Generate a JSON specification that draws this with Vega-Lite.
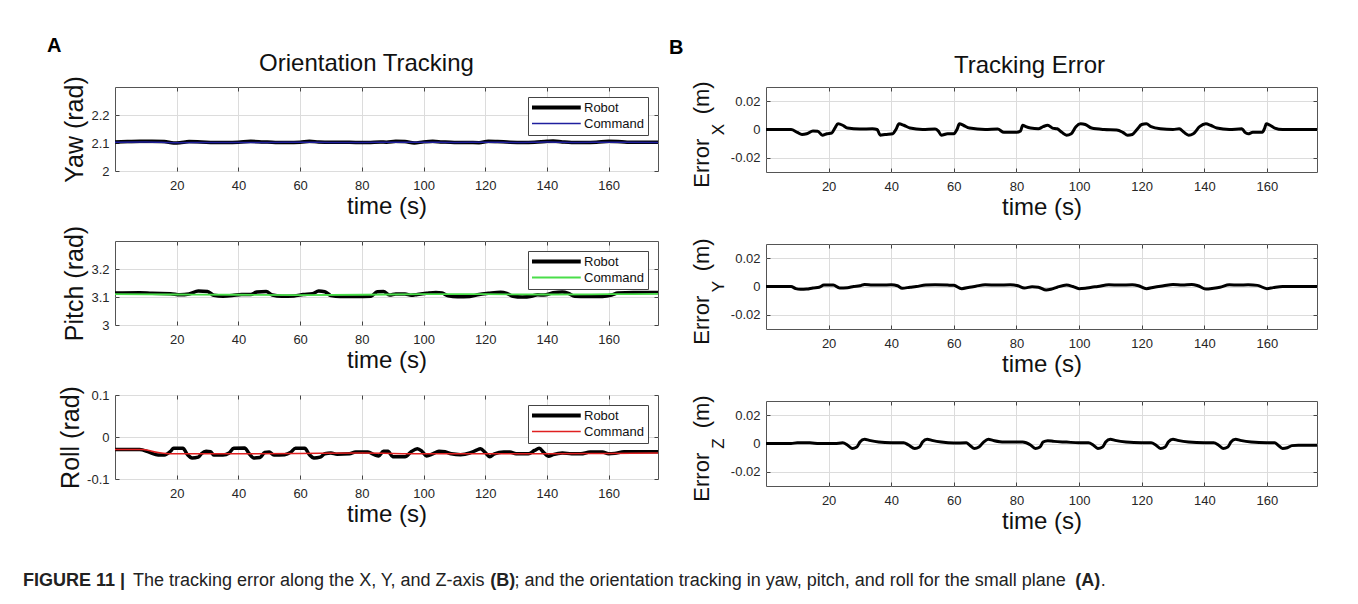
{
  "$schema": "https://vega.github.io/schema/vega-lite/v6.json",
  "background": "white",
  "padding": {"left": 23, "top": 36, "right": 0, "bottom": 0},
  "spacing": 3,
  "title": {
    "text": "FIGURE 11 |\u00a0\u00a0\u00a0\u00a0\u00a0\u00a0\u00a0\u00a0\u00a0\u00a0\u00a0\u00a0\u00a0\u00a0\u00a0\u00a0\u00a0\u00a0\u00a0\u00a0\u00a0\u00a0\u00a0\u00a0\u00a0\u00a0\u00a0\u00a0\u00a0\u00a0\u00a0\u00a0\u00a0\u00a0\u00a0\u00a0\u00a0\u00a0\u00a0\u00a0\u00a0\u00a0\u00a0\u00a0\u00a0\u00a0\u00a0\u00a0\u00a0\u00a0\u00a0\u00a0\u00a0\u00a0\u00a0\u00a0\u00a0\u00a0\u00a0\u00a0\u00a0\u00a0\u00a0\u00a0\u00a0\u00a0\u00a0\u00a0\u00a0\u00a0\u00a0\u00a0\u00a0(B)\u00a0\u00a0\u00a0\u00a0\u00a0\u00a0\u00a0\u00a0\u00a0\u00a0\u00a0\u00a0\u00a0\u00a0\u00a0\u00a0\u00a0\u00a0\u00a0\u00a0\u00a0\u00a0\u00a0\u00a0\u00a0\u00a0\u00a0\u00a0\u00a0\u00a0\u00a0\u00a0\u00a0\u00a0\u00a0\u00a0\u00a0\u00a0\u00a0\u00a0\u00a0\u00a0\u00a0\u00a0\u00a0\u00a0\u00a0\u00a0\u00a0\u00a0\u00a0\u00a0\u00a0\u00a0\u00a0\u00a0\u00a0\u00a0\u00a0\u00a0\u00a0\u00a0\u00a0\u00a0\u00a0\u00a0\u00a0\u00a0\u00a0\u00a0\u00a0\u00a0\u00a0\u00a0\u00a0\u00a0\u00a0\u00a0\u00a0\u00a0\u00a0\u00a0\u00a0\u00a0\u00a0\u00a0\u00a0\u00a0\u00a0\u00a0\u00a0\u00a0\u00a0\u00a0\u00a0\u00a0\u00a0\u00a0\u00a0\u00a0\u00a0\u00a0\u00a0\u00a0\u00a0\u00a0\u00a0\u00a0\u00a0\u00a0\u00a0\u00a0(A)",
    "subtitle": "\u200b\u00a0\u00a0\u00a0\u00a0\u00a0\u00a0\u00a0\u00a0\u00a0\u00a0\u00a0\u00a0\u00a0\u00a0\u00a0\u00a0\u00a0\u00a0\u00a0\u00a0\u00a0\u00a0The tracking error along the X, Y, and Z-axis\u00a0\u00a0\u00a0\u00a0\u00a0\u00a0; and the orientation tracking in yaw, pitch, and roll for the small plane\u00a0\u00a0\u00a0\u00a0\u00a0\u00a0\u00a0.",
    "orient": "bottom",
    "anchor": "start",
    "frame": "group",
    "dx": -92,
    "offset": 38,
    "font": "Liberation Sans",
    "fontSize": 18,
    "fontWeight": "bold",
    "color": "#222222",
    "subtitleFont": "Liberation Sans",
    "subtitleFontSize": 18,
    "subtitleFontWeight": "normal",
    "subtitleColor": "#222222",
    "subtitlePadding": -18
  },
  "datasets": {
    "yaw_r": [
      {"t":0,"v":2.104,"s":"Robot"},{"t":4,"v":2.105,"s":"Robot"},{"t":8,"v":2.106,"s":"Robot"},{"t":12,"v":2.106,"s":"Robot"},{"t":16,"v":2.105,"s":"Robot"},{"t":19,"v":2.1,"s":"Robot"},{"t":21,"v":2.101,"s":"Robot"},{"t":24,"v":2.105,"s":"Robot"},{"t":28,"v":2.104,"s":"Robot"},{"t":32,"v":2.102,"s":"Robot"},{"t":36,"v":2.102,"s":"Robot"},{"t":40,"v":2.103,"s":"Robot"},{"t":44,"v":2.106,"s":"Robot"},{"t":48,"v":2.104,"s":"Robot"},{"t":52,"v":2.102,"s":"Robot"},{"t":56,"v":2.102,"s":"Robot"},{"t":60,"v":2.103,"s":"Robot"},{"t":63,"v":2.106,"s":"Robot"},{"t":66,"v":2.104,"s":"Robot"},{"t":70,"v":2.103,"s":"Robot"},{"t":74,"v":2.103,"s":"Robot"},{"t":78,"v":2.102,"s":"Robot"},{"t":82,"v":2.102,"s":"Robot"},{"t":86,"v":2.104,"s":"Robot"},{"t":88,"v":2.103,"s":"Robot"},{"t":91,"v":2.106,"s":"Robot"},{"t":94,"v":2.105,"s":"Robot"},{"t":97,"v":2.1,"s":"Robot"},{"t":100,"v":2.104,"s":"Robot"},{"t":103,"v":2.106,"s":"Robot"},{"t":106,"v":2.104,"s":"Robot"},{"t":110,"v":2.102,"s":"Robot"},{"t":114,"v":2.102,"s":"Robot"},{"t":118,"v":2.101,"s":"Robot"},{"t":121,"v":2.106,"s":"Robot"},{"t":124,"v":2.105,"s":"Robot"},{"t":128,"v":2.103,"s":"Robot"},{"t":132,"v":2.102,"s":"Robot"},{"t":136,"v":2.103,"s":"Robot"},{"t":140,"v":2.106,"s":"Robot"},{"t":142,"v":2.107,"s":"Robot"},{"t":145,"v":2.104,"s":"Robot"},{"t":148,"v":2.102,"s":"Robot"},{"t":152,"v":2.102,"s":"Robot"},{"t":156,"v":2.103,"s":"Robot"},{"t":160,"v":2.106,"s":"Robot"},{"t":163,"v":2.105,"s":"Robot"},{"t":166,"v":2.103,"s":"Robot"},{"t":170,"v":2.103,"s":"Robot"},{"t":176,"v":2.103,"s":"Robot"}
    ],
    "yaw_c": [
      {"t":0,"v":2.103,"s":"Command"},{"t":10,"v":2.104,"s":"Command"},{"t":20,"v":2.101,"s":"Command"},{"t":30,"v":2.102,"s":"Command"},{"t":40,"v":2.102,"s":"Command"},{"t":50,"v":2.102,"s":"Command"},{"t":60,"v":2.103,"s":"Command"},{"t":70,"v":2.102,"s":"Command"},{"t":80,"v":2.102,"s":"Command"},{"t":90,"v":2.103,"s":"Command"},{"t":100,"v":2.103,"s":"Command"},{"t":110,"v":2.102,"s":"Command"},{"t":120,"v":2.103,"s":"Command"},{"t":130,"v":2.102,"s":"Command"},{"t":140,"v":2.104,"s":"Command"},{"t":150,"v":2.102,"s":"Command"},{"t":160,"v":2.103,"s":"Command"},{"t":176,"v":2.102,"s":"Command"}
    ],
    "pitch_r": [
      {"t":0,"v":3.114,"s":"Robot"},{"t":8,"v":3.115,"s":"Robot"},{"t":12,"v":3.113,"s":"Robot"},{"t":18,"v":3.112,"s":"Robot"},{"t":21,"v":3.108,"s":"Robot"},{"t":24,"v":3.111,"s":"Robot"},{"t":27,"v":3.121,"s":"Robot"},{"t":30,"v":3.12,"s":"Robot"},{"t":32,"v":3.106,"s":"Robot"},{"t":35,"v":3.103,"s":"Robot"},{"t":38,"v":3.105,"s":"Robot"},{"t":41,"v":3.109,"s":"Robot"},{"t":44,"v":3.109,"s":"Robot"},{"t":46,"v":3.118,"s":"Robot"},{"t":49,"v":3.12,"s":"Robot"},{"t":51,"v":3.107,"s":"Robot"},{"t":54,"v":3.103,"s":"Robot"},{"t":58,"v":3.104,"s":"Robot"},{"t":61,"v":3.109,"s":"Robot"},{"t":64,"v":3.112,"s":"Robot"},{"t":66,"v":3.121,"s":"Robot"},{"t":68,"v":3.119,"s":"Robot"},{"t":70,"v":3.105,"s":"Robot"},{"t":73,"v":3.102,"s":"Robot"},{"t":78,"v":3.102,"s":"Robot"},{"t":83,"v":3.103,"s":"Robot"},{"t":85,"v":3.119,"s":"Robot"},{"t":87,"v":3.12,"s":"Robot"},{"t":89,"v":3.107,"s":"Robot"},{"t":91,"v":3.111,"s":"Robot"},{"t":94,"v":3.111,"s":"Robot"},{"t":96,"v":3.106,"s":"Robot"},{"t":98,"v":3.109,"s":"Robot"},{"t":101,"v":3.113,"s":"Robot"},{"t":104,"v":3.116,"s":"Robot"},{"t":106,"v":3.114,"s":"Robot"},{"t":108,"v":3.104,"s":"Robot"},{"t":111,"v":3.101,"s":"Robot"},{"t":115,"v":3.102,"s":"Robot"},{"t":118,"v":3.109,"s":"Robot"},{"t":121,"v":3.113,"s":"Robot"},{"t":125,"v":3.117,"s":"Robot"},{"t":127,"v":3.113,"s":"Robot"},{"t":129,"v":3.103,"s":"Robot"},{"t":132,"v":3.1,"s":"Robot"},{"t":135,"v":3.103,"s":"Robot"},{"t":137,"v":3.108,"s":"Robot"},{"t":139,"v":3.107,"s":"Robot"},{"t":142,"v":3.115,"s":"Robot"},{"t":145,"v":3.118,"s":"Robot"},{"t":147,"v":3.113,"s":"Robot"},{"t":149,"v":3.103,"s":"Robot"},{"t":153,"v":3.102,"s":"Robot"},{"t":158,"v":3.102,"s":"Robot"},{"t":161,"v":3.107,"s":"Robot"},{"t":163,"v":3.114,"s":"Robot"},{"t":168,"v":3.116,"s":"Robot"},{"t":176,"v":3.116,"s":"Robot"}
    ],
    "pitch_c": [
      {"t":0,"v":3.11,"s":"Command"},{"t":20,"v":3.109,"s":"Command"},{"t":40,"v":3.108,"s":"Command"},{"t":60,"v":3.107,"s":"Command"},{"t":80,"v":3.108,"s":"Command"},{"t":100,"v":3.11,"s":"Command"},{"t":120,"v":3.11,"s":"Command"},{"t":140,"v":3.109,"s":"Command"},{"t":160,"v":3.11,"s":"Command"},{"t":176,"v":3.111,"s":"Command"}
    ],
    "roll_r": [
      {"t":0,"v":-0.03,"s":"Robot"},{"t":8,"v":-0.03,"s":"Robot"},{"t":11,"v":-0.036,"s":"Robot"},{"t":14,"v":-0.043,"s":"Robot"},{"t":16,"v":-0.043,"s":"Robot"},{"t":18,"v":-0.034,"s":"Robot"},{"t":19,"v":-0.027,"s":"Robot"},{"t":22,"v":-0.027,"s":"Robot"},{"t":23.5,"v":-0.042,"s":"Robot"},{"t":25,"v":-0.05,"s":"Robot"},{"t":27,"v":-0.048,"s":"Robot"},{"t":28,"v":-0.04,"s":"Robot"},{"t":29.5,"v":-0.034,"s":"Robot"},{"t":31,"v":-0.035,"s":"Robot"},{"t":32,"v":-0.043,"s":"Robot"},{"t":35,"v":-0.043,"s":"Robot"},{"t":37,"v":-0.038,"s":"Robot"},{"t":38.5,"v":-0.027,"s":"Robot"},{"t":42,"v":-0.026,"s":"Robot"},{"t":43.5,"v":-0.04,"s":"Robot"},{"t":45,"v":-0.05,"s":"Robot"},{"t":47,"v":-0.049,"s":"Robot"},{"t":48.5,"v":-0.037,"s":"Robot"},{"t":50,"v":-0.036,"s":"Robot"},{"t":51.5,"v":-0.043,"s":"Robot"},{"t":55,"v":-0.042,"s":"Robot"},{"t":57,"v":-0.036,"s":"Robot"},{"t":58.5,"v":-0.027,"s":"Robot"},{"t":61.5,"v":-0.027,"s":"Robot"},{"t":63,"v":-0.042,"s":"Robot"},{"t":64.5,"v":-0.05,"s":"Robot"},{"t":66.5,"v":-0.048,"s":"Robot"},{"t":68,"v":-0.04,"s":"Robot"},{"t":70,"v":-0.038,"s":"Robot"},{"t":72,"v":-0.041,"s":"Robot"},{"t":76,"v":-0.04,"s":"Robot"},{"t":78,"v":-0.036,"s":"Robot"},{"t":82,"v":-0.036,"s":"Robot"},{"t":84,"v":-0.042,"s":"Robot"},{"t":85.5,"v":-0.045,"s":"Robot"},{"t":87,"v":-0.034,"s":"Robot"},{"t":88.5,"v":-0.034,"s":"Robot"},{"t":90,"v":-0.047,"s":"Robot"},{"t":94,"v":-0.047,"s":"Robot"},{"t":96,"v":-0.035,"s":"Robot"},{"t":98,"v":-0.028,"s":"Robot"},{"t":99.5,"v":-0.034,"s":"Robot"},{"t":101,"v":-0.045,"s":"Robot"},{"t":103,"v":-0.04,"s":"Robot"},{"t":105,"v":-0.034,"s":"Robot"},{"t":107,"v":-0.035,"s":"Robot"},{"t":109,"v":-0.04,"s":"Robot"},{"t":112,"v":-0.042,"s":"Robot"},{"t":115,"v":-0.038,"s":"Robot"},{"t":117,"v":-0.032,"s":"Robot"},{"t":118.5,"v":-0.028,"s":"Robot"},{"t":120,"v":-0.037,"s":"Robot"},{"t":121.5,"v":-0.047,"s":"Robot"},{"t":123,"v":-0.04,"s":"Robot"},{"t":126,"v":-0.036,"s":"Robot"},{"t":128,"v":-0.036,"s":"Robot"},{"t":130,"v":-0.04,"s":"Robot"},{"t":134,"v":-0.04,"s":"Robot"},{"t":136,"v":-0.032,"s":"Robot"},{"t":137.5,"v":-0.027,"s":"Robot"},{"t":139,"v":-0.037,"s":"Robot"},{"t":140.5,"v":-0.046,"s":"Robot"},{"t":142,"v":-0.042,"s":"Robot"},{"t":145,"v":-0.038,"s":"Robot"},{"t":148,"v":-0.04,"s":"Robot"},{"t":151,"v":-0.04,"s":"Robot"},{"t":154,"v":-0.036,"s":"Robot"},{"t":158,"v":-0.036,"s":"Robot"},{"t":160,"v":-0.04,"s":"Robot"},{"t":162,"v":-0.039,"s":"Robot"},{"t":165,"v":-0.035,"s":"Robot"},{"t":170,"v":-0.035,"s":"Robot"},{"t":176,"v":-0.035,"s":"Robot"}
    ],
    "roll_c": [
      {"t":0,"v":-0.03,"s":"Command"},{"t":9,"v":-0.03,"s":"Command"},{"t":14,"v":-0.037,"s":"Command"},{"t":18,"v":-0.04,"s":"Command"},{"t":40,"v":-0.04,"s":"Command"},{"t":60,"v":-0.039,"s":"Command"},{"t":80,"v":-0.038,"s":"Command"},{"t":100,"v":-0.04,"s":"Command"},{"t":120,"v":-0.04,"s":"Command"},{"t":140,"v":-0.04,"s":"Command"},{"t":160,"v":-0.039,"s":"Command"},{"t":176,"v":-0.038,"s":"Command"}
    ],
    "ex": [
      {"t":0,"v":0},{"t":8,"v":0},{"t":10,"v":-0.002},{"t":11.5,"v":-0.0035},{"t":13,"v":-0.003},{"t":15,"v":-0.001},{"t":16.5,"v":-0.0012},{"t":18,"v":-0.004},{"t":19.5,"v":-0.003},{"t":21,"v":-0.0025},{"t":22,"v":0.001},{"t":23,"v":0.004},{"t":24.5,"v":0.003},{"t":26,"v":0.001},{"t":30,"v":0.0003},{"t":34,"v":0.0005},{"t":35.5,"v":0},{"t":36.5,"v":-0.004},{"t":38,"v":-0.0035},{"t":40.5,"v":-0.003},{"t":41.5,"v":0},{"t":42.5,"v":0.004},{"t":44,"v":0.003},{"t":46,"v":0.001},{"t":50,"v":0},{"t":54,"v":0.0003},{"t":55,"v":-0.001},{"t":56,"v":-0.004},{"t":58,"v":-0.003},{"t":60,"v":-0.003},{"t":61,"v":0},{"t":61.8,"v":0.004},{"t":63,"v":0.003},{"t":65,"v":0.001},{"t":70,"v":0},{"t":74,"v":0.0003},{"t":76,"v":-0.002},{"t":80,"v":-0.002},{"t":81.3,"v":-0.001},{"t":82,"v":0.003},{"t":83,"v":0.002},{"t":84.5,"v":0.001},{"t":87,"v":0.0005},{"t":88.5,"v":0.002},{"t":90,"v":0.003},{"t":91.5,"v":0.001},{"t":93,"v":0.0005},{"t":94.5,"v":-0.002},{"t":96,"v":-0.004},{"t":97.5,"v":-0.003},{"t":99,"v":0.002},{"t":100.5,"v":0.004},{"t":102,"v":0.0035},{"t":104,"v":0.001},{"t":108,"v":0},{"t":112,"v":-0.0003},{"t":114,"v":-0.002},{"t":115.5,"v":-0.004},{"t":117,"v":-0.0035},{"t":118.5,"v":0},{"t":120,"v":0.0035},{"t":121.5,"v":0.004},{"t":123,"v":0.002},{"t":126,"v":0.0005},{"t":130,"v":0},{"t":132,"v":0.0005},{"t":133.5,"v":-0.002},{"t":135,"v":-0.004},{"t":136.5,"v":-0.003},{"t":138.5,"v":0.002},{"t":140.5,"v":0.004},{"t":142,"v":0.003},{"t":144,"v":0.001},{"t":148,"v":0},{"t":152,"v":0.0005},{"t":153,"v":-0.002},{"t":154,"v":-0.003},{"t":155.5,"v":-0.002},{"t":158.5,"v":-0.002},{"t":159.3,"v":0.001},{"t":159.8,"v":0.004},{"t":161,"v":0.003},{"t":162.5,"v":0.001},{"t":165,"v":0},{"t":176,"v":0}
    ],
    "ey": [
      {"t":0,"v":0},{"t":8,"v":0},{"t":9.5,"v":-0.0015},{"t":11,"v":-0.002},{"t":13,"v":-0.0018},{"t":15,"v":-0.001},{"t":17,"v":-0.0005},{"t":18.5,"v":0.001},{"t":21.5,"v":0.001},{"t":23.5,"v":-0.001},{"t":26,"v":-0.0008},{"t":28,"v":0},{"t":30,"v":0.0005},{"t":31.5,"v":0.0015},{"t":34,"v":0.001},{"t":37,"v":0.001},{"t":40,"v":0.0012},{"t":42,"v":0.0005},{"t":43.5,"v":-0.0012},{"t":46,"v":-0.0005},{"t":48,"v":0},{"t":51,"v":0.001},{"t":54,"v":0.0012},{"t":58,"v":0.001},{"t":60,"v":0.0008},{"t":62.5,"v":-0.0015},{"t":65,"v":-0.0005},{"t":67,"v":0.0002},{"t":70,"v":0.0012},{"t":74,"v":0.001},{"t":78,"v":0.0012},{"t":80.5,"v":0.0005},{"t":82.5,"v":-0.001},{"t":85,"v":-0.0002},{"t":87,"v":-0.0005},{"t":89.5,"v":-0.0025},{"t":91,"v":-0.002},{"t":93,"v":-0.0005},{"t":96,"v":0.001},{"t":98,"v":0},{"t":100,"v":-0.0015},{"t":102,"v":-0.0012},{"t":104,"v":-0.0005},{"t":106,"v":0},{"t":109.5,"v":0.0012},{"t":113,"v":0.001},{"t":117,"v":0.0012},{"t":119,"v":0.0005},{"t":121.5,"v":-0.0015},{"t":124,"v":-0.0005},{"t":127,"v":0.0005},{"t":130,"v":0.0015},{"t":133,"v":0.001},{"t":136,"v":0.0015},{"t":138,"v":0.0005},{"t":140.5,"v":-0.0018},{"t":143,"v":-0.0012},{"t":145,"v":-0.0005},{"t":148,"v":0.0012},{"t":151,"v":0.001},{"t":154,"v":0.0012},{"t":157,"v":0.0008},{"t":160,"v":-0.0015},{"t":162,"v":-0.0008},{"t":165,"v":0},{"t":176,"v":0}
    ],
    "ez": [
      {"t":0,"v":0},{"t":8,"v":0},{"t":10,"v":0.0005},{"t":14,"v":0.0005},{"t":17,"v":0},{"t":22,"v":0},{"t":24.5,"v":0.0005},{"t":26,"v":-0.001},{"t":27.5,"v":-0.0035},{"t":29,"v":-0.0025},{"t":30,"v":0.001},{"t":31.5,"v":0.003},{"t":33,"v":0.0022},{"t":36,"v":0.001},{"t":40,"v":0.0005},{"t":44,"v":0.0005},{"t":45.5,"v":-0.001},{"t":47.5,"v":-0.0035},{"t":49,"v":-0.0025},{"t":50,"v":0.001},{"t":51.5,"v":0.003},{"t":53,"v":0.0022},{"t":56,"v":0.001},{"t":60,"v":0.0003},{"t":64,"v":0.0005},{"t":65,"v":-0.001},{"t":66.5,"v":-0.0035},{"t":68,"v":-0.0025},{"t":69.5,"v":0.001},{"t":71,"v":0.003},{"t":72.5,"v":0.0022},{"t":76,"v":0.001},{"t":82,"v":0.001},{"t":84.5,"v":-0.001},{"t":86,"v":-0.0035},{"t":87.5,"v":-0.0025},{"t":88.5,"v":0.001},{"t":90,"v":0.002},{"t":92,"v":0.0015},{"t":96,"v":0.001},{"t":100,"v":0.0005},{"t":103,"v":0.0005},{"t":104.5,"v":-0.001},{"t":106,"v":-0.0035},{"t":107.5,"v":-0.0025},{"t":108.5,"v":0.001},{"t":110,"v":0.003},{"t":111.5,"v":0.0022},{"t":115,"v":0.001},{"t":120,"v":0.0005},{"t":123,"v":0.0005},{"t":124.5,"v":-0.001},{"t":126,"v":-0.0035},{"t":127.5,"v":-0.0025},{"t":128.5,"v":0.001},{"t":130,"v":0.003},{"t":131.5,"v":0.0022},{"t":135,"v":0.001},{"t":140,"v":0.0005},{"t":143,"v":0.0005},{"t":144.5,"v":-0.001},{"t":146,"v":-0.0035},{"t":147.5,"v":-0.0025},{"t":148.5,"v":0.001},{"t":150,"v":0.003},{"t":151.5,"v":0.0022},{"t":155,"v":0.001},{"t":160,"v":0.0005},{"t":162.5,"v":0.0005},{"t":163.5,"v":-0.001},{"t":165,"v":-0.0035},{"t":166.5,"v":-0.003},{"t":168,"v":-0.0015},{"t":170,"v":-0.0012},{"t":176,"v":-0.0012}
    ]
  },
  "hconcat": [
    {
      "title": {"text": "A", "anchor": "start", "frame": "group", "dx": -68, "offset": -5, "fontSize": 20, "fontWeight": "bold", "color": "#000000"},
      "bounds": "flush",
      "spacing": 70,
      "resolve": {"scale": {"color": "independent"}, "legend": {"color": "independent"}},
      "vconcat": [
        {
          "width": 543, "height": 84,
          "title": {"text": "Orientation Tracking", "frame": "group", "dx": -20, "offset": 0},
          "layer": [
            {"data": {"name": "yaw_r"}, "mark": {"type": "line", "interpolate": "monotone", "strokeWidth": 3.5},
             "encoding": {
               "x": {"field": "t", "type": "quantitative", "scale": {"domain": [0, 176], "nice": false, "zero": false}, "axis": {"orient": "bottom", "values": [20,40,60,80,100,120,140,160], "title": "time (s)", "grid": true}},
               "y": {"field": "v", "type": "quantitative", "scale": {"domain": [2, 2.3], "nice": false, "zero": false}, "axis": {"orient": "left", "values": [2, 2.1, 2.2], "title": "Yaw (rad)", "grid": true, "labelExpr": "datum.value < 0 ? '-' + format(-datum.value, '~g') : format(datum.value, '~g')"}},
               "color": {"field": "s", "type": "nominal", "scale": {"domain": ["Robot", "Command"], "range": ["#000000", "#1f1f9e"]}, "legend": {"title": null, "orient": "top-right", "encode": {"symbols": {"update": {"strokeWidth": {"signal": "datum.value === 'Robot' ? 4 : 1.5"}}}}}}
             }},
            {"data": {"name": "yaw_c"}, "mark": {"type": "line", "interpolate": "monotone", "strokeWidth": 1.5},
             "encoding": {
               "x": {"field": "t", "type": "quantitative", "axis": {"orient": "top", "values": [20,40,60,80,100,120,140,160], "labels": false, "title": null, "grid": false}},
               "y": {"field": "v", "type": "quantitative", "axis": {"orient": "right", "values": [2, 2.1, 2.2], "labels": false, "title": null, "grid": false}},
               "color": {"field": "s", "type": "nominal", "legend": {"title": null, "orient": "top-right", "encode": {"symbols": {"update": {"strokeWidth": {"signal": "datum.value === 'Robot' ? 4 : 1.5"}}}}}}
             }}
          ],
          "resolve": {"axis": {"x": "independent", "y": "independent"}}
        },
        {
          "width": 543, "height": 84,
          "layer": [
            {"data": {"name": "pitch_r"}, "mark": {"type": "line", "interpolate": "monotone", "strokeWidth": 3.5},
             "encoding": {
               "x": {"field": "t", "type": "quantitative", "scale": {"domain": [0, 176], "nice": false, "zero": false}, "axis": {"orient": "bottom", "values": [20,40,60,80,100,120,140,160], "title": "time (s)", "grid": true}},
               "y": {"field": "v", "type": "quantitative", "scale": {"domain": [3, 3.3], "nice": false, "zero": false}, "axis": {"orient": "left", "values": [3, 3.1, 3.2], "title": "Pitch (rad)", "grid": true, "labelExpr": "datum.value < 0 ? '-' + format(-datum.value, '~g') : format(datum.value, '~g')"}},
               "color": {"field": "s", "type": "nominal", "scale": {"domain": ["Robot", "Command"], "range": ["#000000", "#4ade4a"]}, "legend": {"title": null, "orient": "top-right", "encode": {"symbols": {"update": {"strokeWidth": {"signal": "datum.value === 'Robot' ? 4 : 1.8"}}}}}}
             }},
            {"data": {"name": "pitch_c"}, "mark": {"type": "line", "interpolate": "monotone", "strokeWidth": 1.8},
             "encoding": {
               "x": {"field": "t", "type": "quantitative", "axis": {"orient": "top", "values": [20,40,60,80,100,120,140,160], "labels": false, "title": null, "grid": false}},
               "y": {"field": "v", "type": "quantitative", "axis": {"orient": "right", "values": [3, 3.1, 3.2], "labels": false, "title": null, "grid": false}},
               "color": {"field": "s", "type": "nominal", "legend": {"title": null, "orient": "top-right", "encode": {"symbols": {"update": {"strokeWidth": {"signal": "datum.value === 'Robot' ? 4 : 1.8"}}}}}}
             }}
          ],
          "resolve": {"axis": {"x": "independent", "y": "independent"}}
        },
        {
          "width": 543, "height": 84,
          "layer": [
            {"data": {"name": "roll_r"}, "mark": {"type": "line", "interpolate": "monotone", "strokeWidth": 3.5},
             "encoding": {
               "x": {"field": "t", "type": "quantitative", "scale": {"domain": [0, 176], "nice": false, "zero": false}, "axis": {"orient": "bottom", "values": [20,40,60,80,100,120,140,160], "title": "time (s)", "grid": true}},
               "y": {"field": "v", "type": "quantitative", "scale": {"domain": [-0.1, 0.1], "nice": false, "zero": false}, "axis": {"orient": "left", "values": [-0.1, 0, 0.1], "title": "Roll (rad)", "grid": true, "labelExpr": "datum.value < 0 ? '-' + format(-datum.value, '~g') : format(datum.value, '~g')"}},
               "color": {"field": "s", "type": "nominal", "scale": {"domain": ["Robot", "Command"], "range": ["#000000", "#e02020"]}, "legend": {"title": null, "orient": "top-right", "encode": {"symbols": {"update": {"strokeWidth": {"signal": "datum.value === 'Robot' ? 4 : 1.5"}}}}}}
             }},
            {"data": {"name": "roll_c"}, "mark": {"type": "line", "interpolate": "monotone", "strokeWidth": 1.5},
             "encoding": {
               "x": {"field": "t", "type": "quantitative", "axis": {"orient": "top", "values": [20,40,60,80,100,120,140,160], "labels": false, "title": null, "grid": false}},
               "y": {"field": "v", "type": "quantitative", "axis": {"orient": "right", "values": [-0.1, 0, 0.1], "labels": false, "title": null, "grid": false}},
               "color": {"field": "s", "type": "nominal", "legend": {"title": null, "orient": "top-right", "encode": {"symbols": {"update": {"strokeWidth": {"signal": "datum.value === 'Robot' ? 4 : 1.5"}}}}}}
             }}
          ],
          "resolve": {"axis": {"x": "independent", "y": "independent"}}
        }
      ]
    },
    {
      "title": {"text": "B", "anchor": "start", "frame": "group", "dx": -97, "offset": -5, "fontSize": 20, "fontWeight": "bold", "color": "#000000"},
      "bounds": "flush",
      "spacing": 72,
      "vconcat": [
        {
          "width": 551, "height": 85,
          "title": {"text": "Tracking Error", "frame": "group", "dx": -12, "offset": 3},
          "layer": [
            {"data": {"name": "ex"}, "mark": {"type": "line", "interpolate": "monotone", "color": "#000000", "strokeWidth": 3},
             "encoding": {
               "x": {"field": "t", "type": "quantitative", "scale": {"domain": [0, 176], "nice": false, "zero": false}, "axis": {"orient": "bottom", "values": [20,40,60,80,100,120,140,160], "title": "time (s)", "grid": true}},
               "y": {"field": "v", "type": "quantitative", "scale": {"domain": [-0.03, 0.03], "nice": false, "zero": false}, "axis": {"orient": "left", "values": [-0.02, 0, 0.02], "title": "Error\u00a0\u00a0\u00a0\u00a0(m)", "titleFontSize": 22, "titleX": -58, "titleY": 47, "titleBaseline": "alphabetic", "grid": true, "labelExpr": "datum.value < 0 ? '-' + format(-datum.value, '~g') : format(datum.value, '~g')"}}
             }},
            {"data": {"name": "ex"}, "mark": {"type": "line", "opacity": 0},
             "encoding": {
               "x": {"field": "t", "type": "quantitative", "axis": {"orient": "top", "values": [20,40,60,80,100,120,140,160], "labels": false, "title": null, "grid": false}},
               "y": {"field": "v", "type": "quantitative", "axis": {"orient": "right", "values": [-0.02, 0, 0.02], "labels": false, "title": null, "grid": false}}
             }},
            {"data": {"name": "ex"}, "mark": {"type": "line", "opacity": 0},
             "encoding": {
               "x": {"field": "t", "type": "quantitative", "axis": null},
               "y": {"field": "v", "type": "quantitative", "axis": {"orient": "left", "labels": false, "ticks": false, "grid": false, "domain": false, "title": "X", "titleFontSize": 17, "titleX": -43, "titleY": 42, "titleBaseline": "alphabetic"}}
             }}
          ],
          "resolve": {"axis": {"x": "independent", "y": "independent"}}
        },
        {
          "width": 551, "height": 85,
          "layer": [
            {"data": {"name": "ey"}, "mark": {"type": "line", "interpolate": "monotone", "color": "#000000", "strokeWidth": 3},
             "encoding": {
               "x": {"field": "t", "type": "quantitative", "scale": {"domain": [0, 176], "nice": false, "zero": false}, "axis": {"orient": "bottom", "values": [20,40,60,80,100,120,140,160], "title": "time (s)", "grid": true}},
               "y": {"field": "v", "type": "quantitative", "scale": {"domain": [-0.03, 0.03], "nice": false, "zero": false}, "axis": {"orient": "left", "values": [-0.02, 0, 0.02], "title": "Error\u00a0\u00a0\u00a0\u00a0(m)", "titleFontSize": 22, "titleX": -58, "titleY": 47, "titleBaseline": "alphabetic", "grid": true, "labelExpr": "datum.value < 0 ? '-' + format(-datum.value, '~g') : format(datum.value, '~g')"}}
             }},
            {"data": {"name": "ey"}, "mark": {"type": "line", "opacity": 0},
             "encoding": {
               "x": {"field": "t", "type": "quantitative", "axis": {"orient": "top", "values": [20,40,60,80,100,120,140,160], "labels": false, "title": null, "grid": false}},
               "y": {"field": "v", "type": "quantitative", "axis": {"orient": "right", "values": [-0.02, 0, 0.02], "labels": false, "title": null, "grid": false}}
             }},
            {"data": {"name": "ey"}, "mark": {"type": "line", "opacity": 0},
             "encoding": {
               "x": {"field": "t", "type": "quantitative", "axis": null},
               "y": {"field": "v", "type": "quantitative", "axis": {"orient": "left", "labels": false, "ticks": false, "grid": false, "domain": false, "title": "Y", "titleFontSize": 17, "titleX": -43, "titleY": 42, "titleBaseline": "alphabetic"}}
             }}
          ],
          "resolve": {"axis": {"x": "independent", "y": "independent"}}
        },
        {
          "width": 551, "height": 85,
          "layer": [
            {"data": {"name": "ez"}, "mark": {"type": "line", "interpolate": "monotone", "color": "#000000", "strokeWidth": 3},
             "encoding": {
               "x": {"field": "t", "type": "quantitative", "scale": {"domain": [0, 176], "nice": false, "zero": false}, "axis": {"orient": "bottom", "values": [20,40,60,80,100,120,140,160], "title": "time (s)", "grid": true}},
               "y": {"field": "v", "type": "quantitative", "scale": {"domain": [-0.03, 0.03], "nice": false, "zero": false}, "axis": {"orient": "left", "values": [-0.02, 0, 0.02], "title": "Error\u00a0\u00a0\u00a0\u00a0(m)", "titleFontSize": 22, "titleX": -58, "titleY": 47, "titleBaseline": "alphabetic", "grid": true, "labelExpr": "datum.value < 0 ? '-' + format(-datum.value, '~g') : format(datum.value, '~g')"}}
             }},
            {"data": {"name": "ez"}, "mark": {"type": "line", "opacity": 0},
             "encoding": {
               "x": {"field": "t", "type": "quantitative", "axis": {"orient": "top", "values": [20,40,60,80,100,120,140,160], "labels": false, "title": null, "grid": false}},
               "y": {"field": "v", "type": "quantitative", "axis": {"orient": "right", "values": [-0.02, 0, 0.02], "labels": false, "title": null, "grid": false}}
             }},
            {"data": {"name": "ez"}, "mark": {"type": "line", "opacity": 0},
             "encoding": {
               "x": {"field": "t", "type": "quantitative", "axis": null},
               "y": {"field": "v", "type": "quantitative", "axis": {"orient": "left", "labels": false, "ticks": false, "grid": false, "domain": false, "title": "Z", "titleFontSize": 17, "titleX": -43, "titleY": 42, "titleBaseline": "alphabetic"}}
             }}
          ],
          "resolve": {"axis": {"x": "independent", "y": "independent"}}
        }
      ]
    }
  ],
  "config": {
    "font": "Liberation Sans",
    "view": {"stroke": "#555555", "strokeWidth": 1},
    "axis": {
      "domain": false,
      "gridColor": "#dcdcdc",
      "gridWidth": 1,
      "tickColor": "#444444",
      "tickSize": -4,
      "tickWidth": 1,
      "labelFont": "Liberation Sans",
      "labelFontSize": 13,
      "labelColor": "#262626",
      "labelFlush": false,
      "titleFont": "Liberation Sans",
      "titleFontWeight": "normal",
      "titleColor": "#111111",
      "titleFontSize": 24
    },
    "axisX": {"labelPadding": 12, "titlePadding": 2},
    "axisY": {"labelPadding": 10, "titlePadding": 3, "titleFontSize": 25},
    "legend": {
      "orient": "top-right",
      "offset": 10,
      "strokeColor": "#444444",
      "fillColor": "#ffffff",
      "padding": 4,
      "rowPadding": 1,
      "labelFont": "Liberation Sans",
      "labelFontSize": 13,
      "labelColor": "#111111",
      "labelOffset": 39,
      "symbolSize": 169,
      "symbolType": "M-1,0H6.5",
      "symbolStrokeWidth": 2.5,
      "cornerRadius": 0
    },
    "title": {"font": "Liberation Sans", "fontWeight": "normal", "fontSize": 24, "color": "#111111"}
  }
}
